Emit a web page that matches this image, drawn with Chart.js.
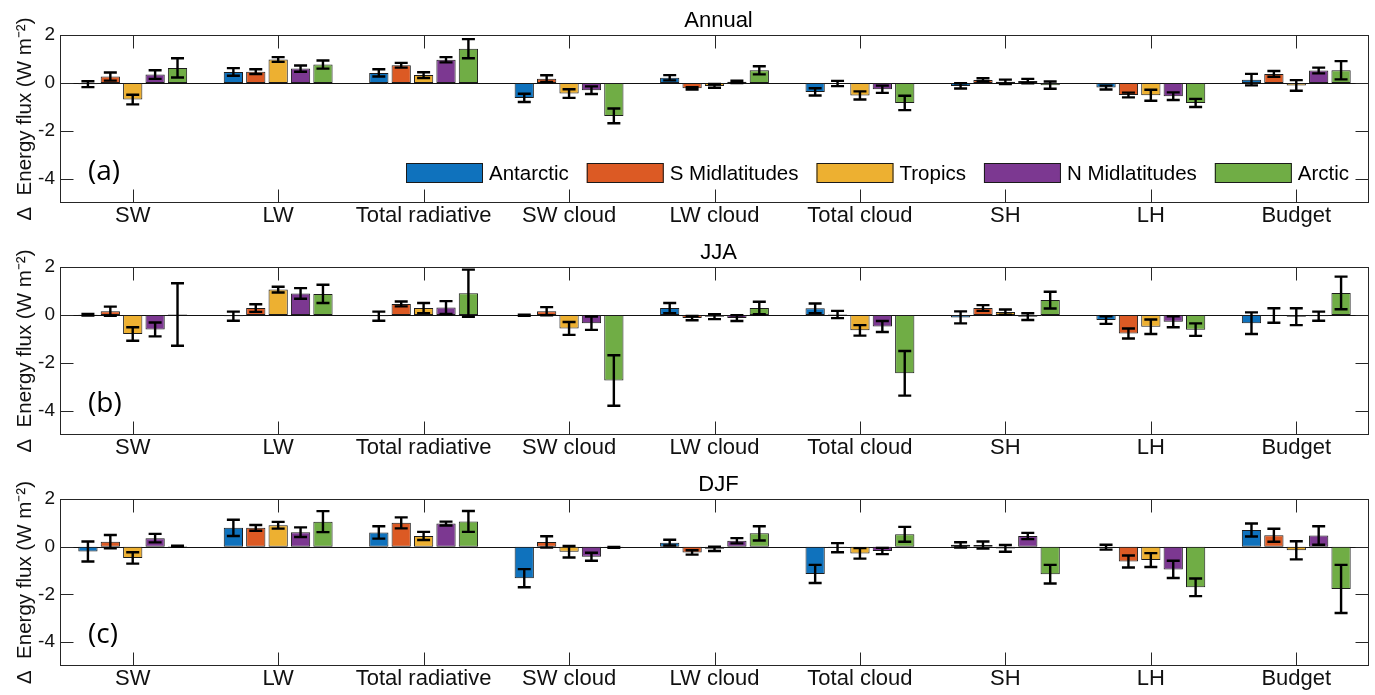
<!DOCTYPE html>
<html>
<head>
<meta charset="utf-8">
<script src="https://cdn.jsdelivr.net/npm/chart.js@4.4.0/dist/chart.umd.min.js"></script>
<style>
  body { margin: 0; background: #fff; width: 1375px; height: 695px; overflow: hidden; }
  canvas { display: block; }
</style>
</head>
<body>
<canvas id="panelA" width="1375" height="232"></canvas>
<canvas id="panelB" width="1375" height="232"></canvas>
<canvas id="panelC" width="1375" height="231"></canvas>
<script>
// Categories, regions and ticks
const categories = ['SW', 'LW', 'Total radiative', 'SW cloud', 'LW cloud', 'Total cloud', 'SH', 'LH', 'Budget'];
const regions = ['Antarctic', 'S Midlatitudes', 'Tropics', 'N Midlatitudes', 'Arctic'];
const regionColors = ['#0f72bd', '#dc5a24', '#edb031', '#7c3891', '#70ad45'];
const yTicks = [-4, -2, 0, 2];

// Annual means (one row per region) and error half-widths
const annualMean = [
  [-0.05, 0.46, 0.42, -0.62, 0.22, -0.37, -0.12, -0.19, 0.14],
  [0.27, 0.47, 0.74, 0.18, -0.22, -0.02, 0.13, -0.50, 0.38],
  [-0.69, 0.98, 0.33, -0.44, -0.12, -0.52, 0.05, -0.51, -0.10],
  [0.35, 0.60, 0.97, -0.30, 0.05, -0.26, 0.08, -0.55, 0.52],
  [0.63, 0.77, 1.43, -1.37, 0.53, -0.83, -0.09, -0.83, 0.53]
];
const annualErr = [
  [0.12, 0.16, 0.15, 0.17, 0.11, 0.15, 0.11, 0.08, 0.24],
  [0.17, 0.10, 0.10, 0.14, 0.05, 0.11, 0.07, 0.10, 0.12],
  [0.20, 0.10, 0.12, 0.18, 0.08, 0.17, 0.09, 0.23, 0.22],
  [0.18, 0.13, 0.11, 0.16, 0.05, 0.15, 0.09, 0.16, 0.12],
  [0.40, 0.17, 0.40, 0.31, 0.17, 0.30, 0.15, 0.17, 0.38]
];

// JJA
const jjaMean = [
  [0.01, -0.05, -0.05, -0.01, 0.29, 0.28, -0.10, -0.21, -0.34],
  [0.16, 0.29, 0.46, 0.16, -0.13, 0.02, 0.29, -0.77, -0.02],
  [-0.79, 1.06, 0.29, -0.56, -0.07, -0.64, 0.12, -0.49, -0.07],
  [-0.60, 0.90, 0.31, -0.34, -0.13, -0.48, -0.07, -0.28, -0.05],
  [0.02, 0.88, 0.91, -2.73, 0.29, -2.43, 0.62, -0.61, 0.92]
];
const jjaErr = [
  [0.03, 0.19, 0.19, 0.02, 0.21, 0.20, 0.25, 0.16, 0.45],
  [0.19, 0.16, 0.10, 0.17, 0.09, 0.15, 0.12, 0.21, 0.30],
  [0.28, 0.12, 0.21, 0.27, 0.10, 0.22, 0.11, 0.30, 0.35],
  [0.29, 0.22, 0.27, 0.28, 0.12, 0.23, 0.14, 0.23, 0.19],
  [1.30, 0.38, 0.98, 1.05, 0.26, 0.93, 0.35, 0.26, 0.68]
];

// DJF
const djfMean = [
  [-0.20, 0.79, 0.60, -1.32, 0.17, -1.14, 0.08, -0.02, 0.70],
  [0.21, 0.79, 1.00, 0.20, -0.24, -0.04, 0.07, -0.62, 0.48],
  [-0.47, 0.90, 0.45, -0.21, -0.09, -0.28, -0.07, -0.56, -0.15],
  [0.36, 0.61, 0.97, -0.42, 0.25, -0.18, 0.45, -0.95, 0.47],
  [0.02, 1.05, 1.06, -0.03, 0.56, 0.52, -1.15, -1.70, -1.77]
];
const djfErr = [
  [0.42, 0.34, 0.26, 0.38, 0.12, 0.38, 0.11, 0.10, 0.27],
  [0.28, 0.12, 0.23, 0.24, 0.09, 0.19, 0.15, 0.25, 0.27],
  [0.24, 0.14, 0.17, 0.24, 0.09, 0.22, 0.14, 0.29, 0.38],
  [0.18, 0.20, 0.08, 0.17, 0.11, 0.13, 0.13, 0.36, 0.39],
  [0.02, 0.44, 0.44, 0.02, 0.30, 0.31, 0.39, 0.37, 1.01]
];

const axisColor = '#262626';
const textFont = 'Liberation Sans';

// Box, inward ticks, zero line, error bars, title, panel letter, legend
const panelDecor = {
  id: 'panelDecor',
  beforeDatasetsDraw(chart) {
    const { ctx, chartArea: a, scales: { y } } = chart;
    const y0 = Math.round(y.getPixelForValue(0)) + 0.5;
    ctx.save();
    ctx.strokeStyle = '#111';
    ctx.lineWidth = 1;
    ctx.beginPath();
    ctx.moveTo(a.left, y0);
    ctx.lineTo(a.right, y0);
    ctx.stroke();
    ctx.restore();
  },
  afterDatasetsDraw(chart, args, opts) {
    const { ctx, chartArea: a, scales: { x, y } } = chart;
    ctx.save();

    // error bars
    ctx.strokeStyle = '#000';
    ctx.lineWidth = 2.4;
    chart.data.datasets.forEach((ds, i) => {
      const meta = chart.getDatasetMeta(i);
      meta.data.forEach((bar, j) => {
        const v = ds.data[j], e = opts.errors[i][j];
        const yt = y.getPixelForValue(v + e);
        const yb = y.getPixelForValue(v - e);
        ctx.beginPath();
        ctx.moveTo(bar.x, yt); ctx.lineTo(bar.x, yb);
        ctx.moveTo(bar.x - 6.5, yt); ctx.lineTo(bar.x + 6.5, yt);
        ctx.moveTo(bar.x - 6.5, yb); ctx.lineTo(bar.x + 6.5, yb);
        ctx.stroke();
      });
    });

    // axes box
    ctx.strokeStyle = axisColor;
    ctx.lineWidth = 1;
    const L = Math.round(a.left) + 0.5, R = Math.round(a.right) - 0.5;
    const T = Math.round(a.top) + 0.5, B = Math.round(a.bottom) - 0.5;
    ctx.strokeRect(L, T, R - L, B - T);

    // inward ticks
    const tl = 13;
    ctx.beginPath();
    x.ticks.forEach((t, k) => {
      const px = Math.round(x.getPixelForTick(k)) + 0.5;
      ctx.moveTo(px, T); ctx.lineTo(px, T + tl);
      ctx.moveTo(px, B); ctx.lineTo(px, B - tl);
    });
    yTicks.forEach(v => {
      const py = Math.round(y.getPixelForValue(v)) + 0.5;
      ctx.moveTo(L, py); ctx.lineTo(L + tl, py);
      ctx.moveTo(R, py); ctx.lineTo(R - tl, py);
    });
    ctx.stroke();

    // panel title
    ctx.fillStyle = '#000';
    ctx.font = '22px "' + textFont + '"';
    ctx.textAlign = 'center';
    ctx.textBaseline = 'middle';
    ctx.fillText(opts.title, (a.left + a.right) / 2 + 4, a.top - 14);

    // panel letter
    ctx.font = '28px "Open Sans"';
    ctx.textAlign = 'left';
    ctx.fillText(opts.letter, a.left + 28, y.getPixelForValue(-3.7));

    // legend
    if (opts.legend) {
      ctx.font = '20.5px "' + textFont + '"';
      const ly = Math.round(y.getPixelForValue(-3.75));
      let lx = 406;
      chart.data.datasets.forEach(ds => {
        ctx.fillStyle = ds.backgroundColor;
        ctx.fillRect(lx, ly - 10, 77, 20);
        ctx.strokeStyle = '#1a1a1a';
        ctx.strokeRect(lx + 0.5, ly - 9.5, 76, 19);
        ctx.fillStyle = '#000';
        ctx.fillText(ds.label, lx + 83, ly + 1);
        lx += 83 + ctx.measureText(ds.label).width + 18;
      });
    }
    ctx.restore();
  }
};

function makePanel(id, title, letter, means, errs, showLegend) {
  return new Chart(document.getElementById(id), {
    type: 'bar',
    data: {
      labels: categories,
      datasets: regions.map((r, i) => ({
        label: r,
        data: means[i],
        backgroundColor: regionColors[i],
        borderColor: '#1c1c1c',
        borderWidth: 1,
        borderSkipped: false,
        categoryPercentage: 0.77,
        barPercentage: 0.86
      }))
    },
    options: {
      responsive: false,
      animation: false,
      layout: { padding: { top: 35, right: 6, left: 0, bottom: 0 } },
      plugins: {
        legend: { display: false },
        tooltip: { enabled: false },
        title: { display: false },
        panelDecor: { title: title, letter: letter, errors: errs, legend: showLegend }
      },
      scales: {
        x: {
          offset: true,
          afterFit: s => { s.height = 29; },
          grid: { display: false, drawTicks: false },
          border: { display: false },
          ticks: {
            color: '#111',
            font: { family: textFont, size: 22 },
            padding: 0,
            maxRotation: 0,
            autoSkip: false
          }
        },
        y: {
          min: -5,
          max: 2,
          afterBuildTicks: s => { s.ticks = yTicks.map(v => ({ value: v })); },
          afterFit: s => { s.width = 60; },
          grid: { display: false, drawTicks: false },
          border: { display: false },
          ticks: {
            color: '#111',
            font: { family: textFont, size: 19 },
            padding: 5,
            callback: v => String(v)
          },
          title: {
            display: true,
            text: 'Δ  Energy flux (W m⁻²)',
            color: '#111',
            font: { family: textFont, size: 20.5 },
            padding: { top: 13, bottom: 0 }
          }
        }
      }
    },
    plugins: [panelDecor]
  });
}

makePanel('panelA', 'Annual', '(a)', annualMean, annualErr, true);
makePanel('panelB', 'JJA', '(b)', jjaMean, jjaErr, false);
makePanel('panelC', 'DJF', '(c)', djfMean, djfErr, false);
</script>
</body>
</html>
